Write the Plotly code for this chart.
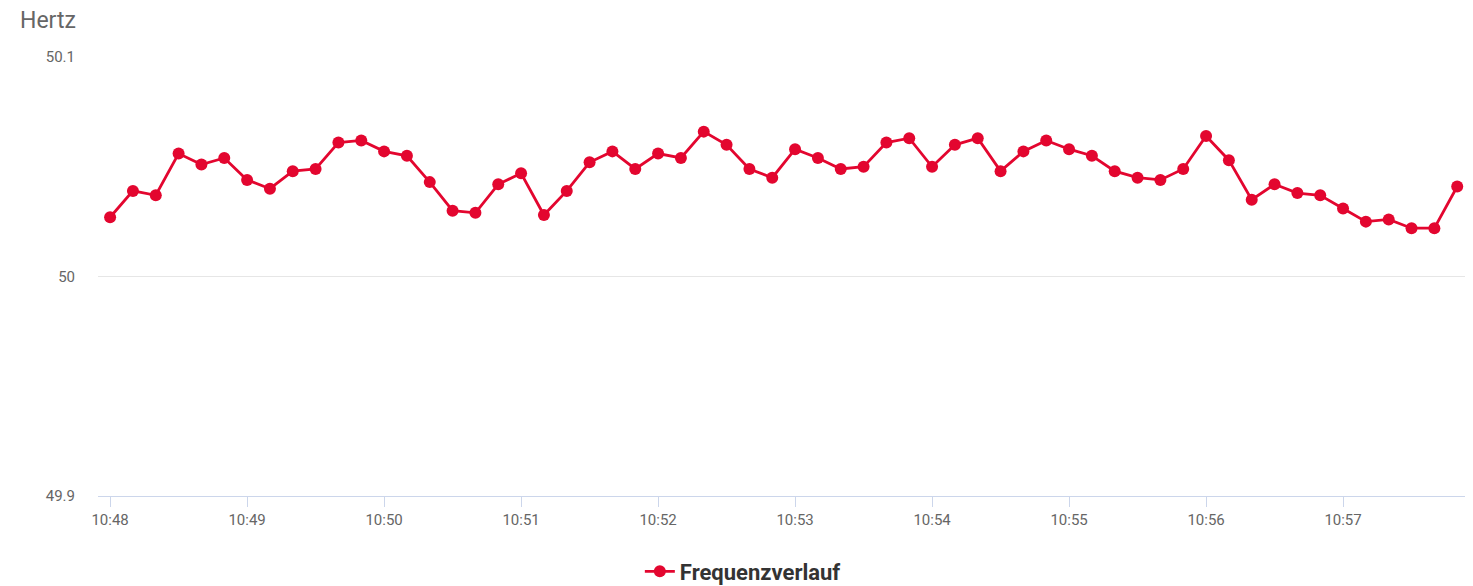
import plotly.graph_objects as go
import pandas as pd

times = pd.date_range("2024-01-01 10:48:00", periods=60, freq="10s")
freq = [50.027, 50.039, 50.037, 50.056, 50.051, 50.054, 50.044, 50.040, 50.048, 50.049,
        50.061, 50.062, 50.057, 50.055, 50.043, 50.030, 50.029, 50.042, 50.047, 50.028,
        50.039, 50.052, 50.057, 50.049, 50.056, 50.054, 50.066, 50.060, 50.049, 50.045,
        50.058, 50.054, 50.049, 50.050, 50.061, 50.063, 50.050, 50.060, 50.063, 50.048,
        50.057, 50.062, 50.058, 50.055, 50.048, 50.045, 50.044, 50.049, 50.064, 50.053,
        50.035, 50.042, 50.038, 50.037, 50.031, 50.025, 50.026, 50.022, 50.022, 50.041]
tick_vals = pd.date_range("2024-01-01 10:48:00", periods=10, freq="1min")
tick_text = [t.strftime("%H:%M") for t in tick_vals]
y_ticks = [49.9, 50.0, 50.1]
y_text = ["49.9", "50", "50.1"]

color = "#e3062f"
fig = go.Figure()
fig.add_trace(go.Scatter(
    x=times, y=freq, mode="lines+markers", name="Frequenzverlauf",
    line=dict(color=color, width=2.8),
    marker=dict(color=color, size=12),
    cliponaxis=False,
))

fig.update_layout(
    width=1465, height=578,
    margin=dict(l=90, r=3, t=49, b=90, autoexpand=False),
    paper_bgcolor="white", plot_bgcolor="white",
    font=dict(family="Roboto, Arial, sans-serif", color="#666666", size=15),
    showlegend=True,
    legend=dict(orientation="h", x=0.47, xanchor="center", y=-0.172, yanchor="middle",
                font=dict(size=22, color="#333333", family="Roboto, Arial, sans-serif", weight="bold"),
                itemwidth=30),
    annotations=[dict(text="Hertz", xref="paper", yref="paper", x=-0.058, y=1.084,
                      xanchor="left", yanchor="middle", showarrow=False,
                      font=dict(size=23, color="#666666"))],
)
fig.update_xaxes(
    range=["2024-01-01 10:47:54.7", "2024-01-01 10:57:55.6"],
    tickvals=tick_vals, ticktext=tick_text,
    showgrid=False, showline=True, linecolor="#ccd6eb", linewidth=1,
    ticks="outside", ticklen=10, tickcolor="#ccd6eb", tickwidth=1,
    tickfont=dict(size=15, color="#666666"), zeroline=False, automargin=False,
)
fig.update_yaxes(
    range=[49.9, 50.1], tickvals=y_ticks, ticktext=y_text,
    showgrid=True, gridcolor="#e6e6e6", gridwidth=1, zeroline=False,
    showline=False, ticklabelstandoff=22, automargin=False,
    tickfont=dict(size=15, color="#666666"),
)
fig.write_html("out.html")
